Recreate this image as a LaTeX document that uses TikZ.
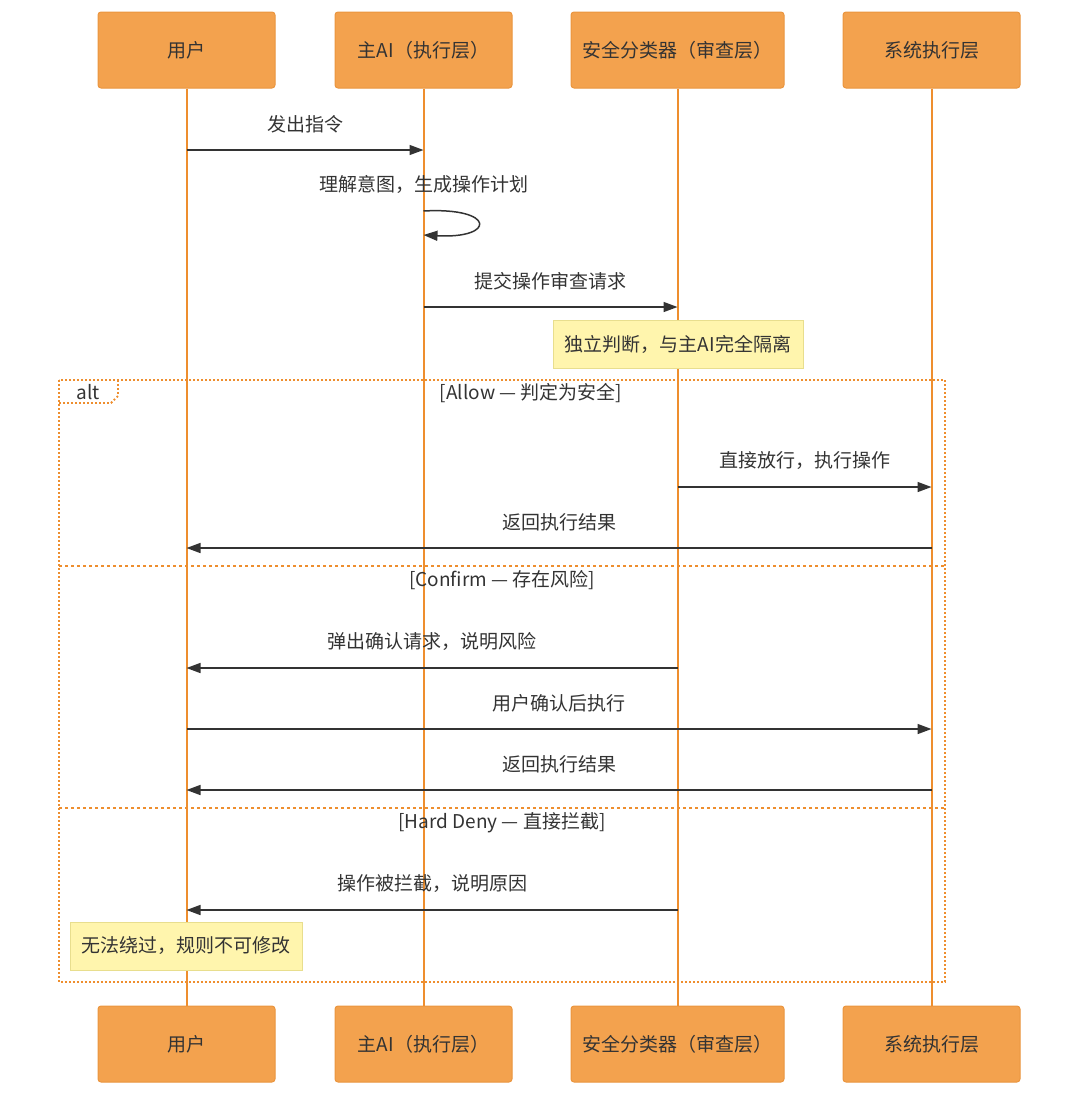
\documentclass[tikz,border=0pt]{standalone}
\usepackage{fontspec}
\setmainfont{Noto Sans CJK SC}
\usetikzlibrary{arrows.meta}
\definecolor{actorfill}{HTML}{F3A24E}
\definecolor{actorline}{HTML}{EA953E}
\definecolor{lifeline}{HTML}{EE8E2E}
\definecolor{notefill}{HTML}{FFF5AD}
\definecolor{noteline}{HTML}{E8DE8E}
\definecolor{textdark}{HTML}{333333}

\begin{document}
\begin{tikzpicture}[
        x=1pt, y=-1pt,
        every node/.style={text=textdark, font=\fontsize{19}{21}\selectfont},
        actor/.style={draw=actorline, fill=actorfill, line width=1pt, rounded corners=3pt, minimum height=76pt},
        life/.style={draw=lifeline, line width=2pt},
        msg/.style={draw=textdark, line width=1.5pt, -{Triangle[length=14pt,width=10pt]}},
        msgtext/.style={above=13pt},
        note/.style={draw=noteline, fill=notefill, line width=1pt, minimum height=48pt},
        frame/.style={draw=lifeline, line width=1.8pt, dash pattern=on 1.8pt off 2.2pt},
        sep/.style={draw=lifeline, line width=1.8pt, dash pattern=on 3pt off 3pt}
    ]
        \useasboundingbox (0,0) rectangle (1080,1095);

        % Actors on top
        \node[actor, minimum width=177pt] (user) at (186.5,50) {用户};
        \node[actor, minimum width=177pt] (ai) at (423.5,50) {主AI（执行层）};
        \node[actor, minimum width=213pt] (guard) at (677.5,50) {安全分类器（审查层）};
        \node[actor, minimum width=177pt] (sys) at (931.5,50) {系统执行层};

        % Actors repeated at the bottom
        \node[actor, minimum width=177pt] (userB) at (186.5,1044) {用户};
        \node[actor, minimum width=177pt] (aiB) at (423.5,1044) {主AI（执行层）};
        \node[actor, minimum width=213pt] (guardB) at (677.5,1044) {安全分类器（审查层）};
        \node[actor, minimum width=177pt] (sysB) at (931.5,1044) {系统执行层};

        % Lifelines
        \draw[life] (user.south) -- (userB.north);
        \draw[life] (ai.south) -- (aiB.north);
        \draw[life] (guard.south) -- (guardB.north);
        \draw[life] (sys.south) -- (sysB.north);

        % Opening messages
        \draw[msg] (user |- 0,150) -- node[msgtext] {发出指令} (ai |- 0,150);
        \node (plan) at (424,184) {理解意图，生成操作计划};
        \draw[msg] (ai |- 0,211) .. controls (496,207) and (496,239) .. (ai |- 0,235);
        \draw[msg] (ai |- 0,307) -- node[msgtext] {提交操作审查请求} (guard |- 0,307);
        \node[note, minimum width=250pt] (iso) at (678,344) {独立判断，与主AI完全隔离};

        % alt frame with its three branches
        \draw[frame] (59,380) rectangle (945,982);
        \draw[frame] (59,403) -- (111,403) -- (118,396) -- (118,380);
        \node (alt) at (88,392) {alt};
        \node (allow) at (531,393) {[Allow — 判定为安全]};

        \draw[msg] (guard |- 0,487) -- node[msgtext] {直接放行，执行操作} (sys |- 0,487);
        \draw[msg] (sys |- 0,548) -- node[msgtext] {返回执行结果} (user |- 0,548);

        \draw[sep] (59,566) -- (945,566);
        \node (confirm) at (502,580) {[Confirm — 存在风险]};

        \draw[msg] (guard |- 0,668) -- node[msgtext] {弹出确认请求，说明风险} (user |- 0,668);
        \draw[msg] (user |- 0,729) -- node[msgtext] {用户确认后执行} (sys |- 0,729);
        \draw[msg] (sys |- 0,790) -- node[msgtext] {返回执行结果} (user |- 0,790);

        \draw[sep] (59,808) -- (945,808);
        \node (deny) at (502,823) {[Hard Deny — 直接拦截]};

        \draw[msg] (guard |- 0,910) -- node[msgtext] {操作被拦截，说明原因} (user |- 0,910);
        \node[note, minimum width=232pt] (fixed) at (186,946) {无法绕过，规则不可修改};
    \end{tikzpicture}
\end{document}
